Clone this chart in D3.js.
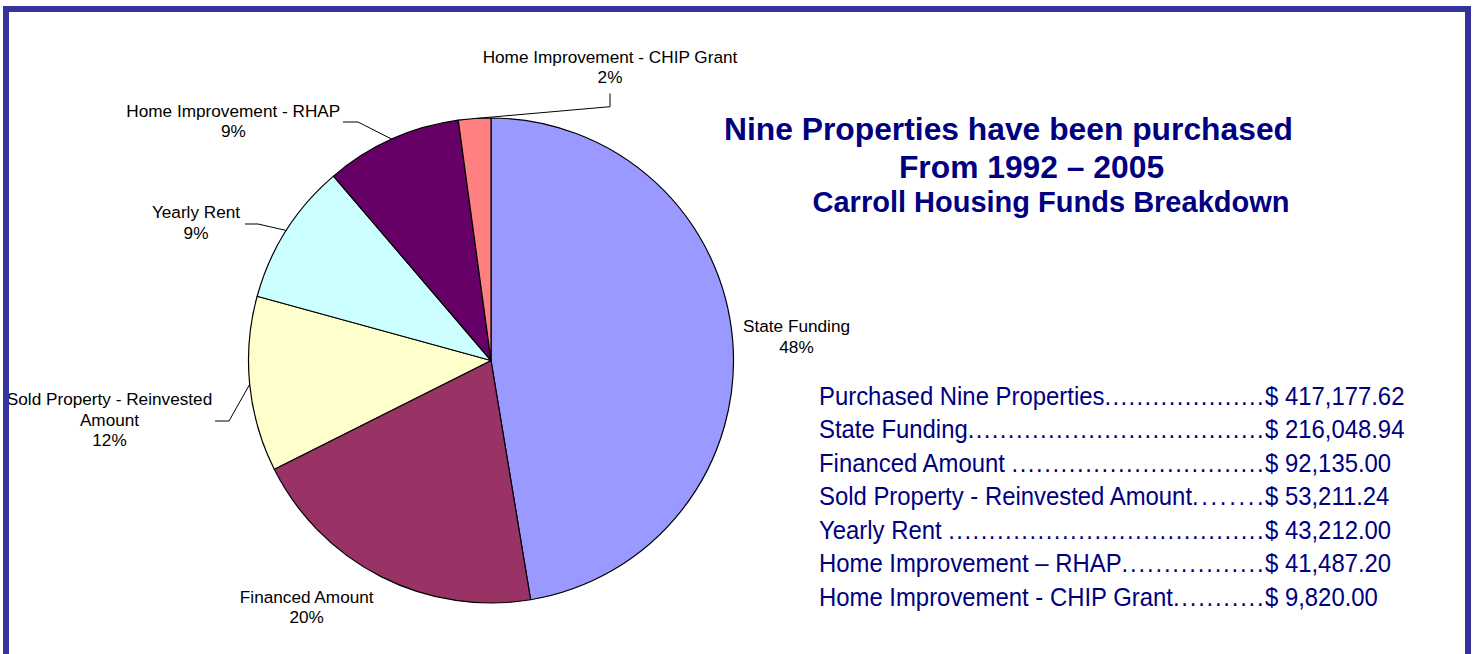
<!DOCTYPE html>
<html>
<head>
<meta charset="utf-8">
<script src="https://cdn.jsdelivr.net/npm/d3@7"></script>
<style>
  html, body { margin: 0; padding: 0; background: #ffffff; }
  svg { display: block; }
</style>
</head>
<body>
<svg id="chart" width="1476" height="654"></svg>
<script>
// ---------------- data ----------------
const categories = [
  "State Funding",
  "Financed Amount",
  "Sold Property - Reinvested Amount",
  "Yearly Rent",
  "Home Improvement - RHAP",
  "Home Improvement - CHIP Grant"
];
const values = [216048.94, 92135.00, 53211.24, 43212.00, 41487.20, 9820.00];
const percentLabels = ["48%", "20%", "12%", "9%", "9%", "2%"];
const sliceColors = ["#9999FF", "#993366", "#FFFFCC", "#CCFFFF", "#660066", "#FF8080"];

const titleLines = [
  "Nine Properties have been purchased",
  "From 1992 \u2013 2005",
  "Carroll Housing Funds Breakdown"
];

const tableLabels = [
  "Purchased Nine Properties",
  "State Funding",
  "Financed Amount ",
  "Sold Property - Reinvested Amount",
  "Yearly Rent ",
  "Home Improvement \u2013 RHAP",
  "Home Improvement - CHIP Grant"
];
const tableAmounts = [
  "$ 417,177.62",
  "$ 216,048.94",
  "$ 92,135.00",
  "$ 53,211.24",
  "$ 43,212.00",
  "$ 41,487.20",
  "$ 9,820.00"
];

// ---------------- layout ----------------
const svg = d3.select("#chart");
const W = 1476, H = 654;
svg.append("rect").attr("width", W).attr("height", H).attr("fill", "#ffffff");

const cx = 491, cy = 360.5, R = 242.5;
const pie = d3.pie().sort(null).value(d => d.value);
const arcs = pie(categories.map((c, i) => ({ name: c, value: values[i], pct: percentLabels[i], color: sliceColors[i] })));
const arcGen = d3.arc().innerRadius(0).outerRadius(R);
const edgeArc = d3.arc().innerRadius(R).outerRadius(R);

const pieG = svg.append("g").attr("transform", `translate(${cx},${cy})`);
pieG.selectAll("path.slice")
  .data(arcs)
  .join("path")
  .attr("class", "slice")
  .attr("d", arcGen)
  .attr("fill", d => d.data.color)
  .attr("stroke", "#000000")
  .attr("stroke-width", 1.2)
  .attr("stroke-linejoin", "round");

// label placement (layout only)
const labelLayout = [
  { x: 796.5, y: 332.3, leader: null },
  { x: 306.7, y: 602.7, leader: null },
  { x: 109.5, y: 405.0, leader: [[215, 421], [229, 421]] },
  { x: 196.0, y: 218.3, leader: [[245, 224], [258, 224]] },
  { x: 233.3, y: 116.7, leader: [[343, 122], [358, 122]] },
  { x: 610.0, y: 62.7,  leader: [[610, 93.5], [610, 106.7]] }
];
const lineH = 20.5;
const labelFont = "'Liberation Sans', Arial, sans-serif";

function wrapName(name) {
  if (name.length <= 30) return [name];
  const k = name.lastIndexOf(" ");
  return [name.slice(0, k), name.slice(k + 1)];
}

arcs.forEach((d, i) => {
  const L = labelLayout[i];
  if (L.leader) {
    const c = edgeArc.centroid(d);
    const pts = L.leader.concat([[cx + c[0], cy + c[1]]]);
    svg.append("path")
      .attr("d", d3.line()(pts))
      .attr("fill", "none")
      .attr("stroke", "#000000")
      .attr("stroke-width", 1);
  }
  const lines = wrapName(d.data.name).concat([d.data.pct]);
  const t = svg.append("text")
    .attr("font-family", labelFont)
    .attr("font-size", 17.2)
    .attr("fill", "#000000")
    .attr("text-anchor", "middle");
  lines.forEach((ln, j) => {
    t.append("tspan").attr("x", L.x).attr("y", L.y + j * lineH).text(ln);
  });
});

// title
const titleLayout = [
  { x: 1008.5, y: 140.0, size: 31.8 },
  { x: 1031.5, y: 177.5, size: 31.8 },
  { x: 1051.0, y: 211.5, size: 29.0 }
];
titleLines.forEach((s, i) => {
  svg.append("text")
    .attr("x", titleLayout[i].x)
    .attr("y", titleLayout[i].y)
    .attr("text-anchor", "middle")
    .attr("font-family", labelFont)
    .attr("font-weight", "bold")
    .attr("font-size", titleLayout[i].size)
    .attr("fill", "#000080")
    .text(s);
});

// value table
const tx = 819, ty0 = 404.7, rowH = 33.55, sx = 0.93, tfs = 25.7, amountX = 1265;
tableLabels.forEach((lab, i) => {
  const g = svg.append("g")
    .attr("transform", `translate(${tx},${ty0 + i * rowH}) scale(${sx},1)`)
    .attr("font-family", labelFont)
    .attr("font-size", tfs)
    .attr("fill", "#000080");
  const nameT = g.append("text").attr("x", 0).attr("y", 0).style("white-space", "pre").text(lab);
  const w = nameT.node().getComputedTextLength();
  const ax = (amountX - tx) / sx;
  g.append("text").attr("x", ax).attr("y", 0).text(tableAmounts[i]);
  const dotEnd = ax - 1.5;
  const span = dotEnd - w;
  const dotW = tfs * 0.333;
  const n = Math.max(0, Math.floor(span / dotW));
  if (n > 0) {
    g.append("text")
      .attr("x", w)
      .attr("y", 0)
      .attr("textLength", span)
      .attr("lengthAdjust", "spacing")
      .text(".".repeat(n));
  }
});

// frame border (drawn last)
svg.append("path")
  .attr("d", `M6,${H + 10} L6,9 L1468,9 L1468,${H + 10}`)
  .attr("fill", "none")
  .attr("stroke", "#333399")
  .attr("stroke-width", 6);
svg.append("rect").attr("x", 0).attr("y", 0).attr("width", 3).attr("height", H).attr("fill", "#ffffff");
</script>
</body>
</html>
